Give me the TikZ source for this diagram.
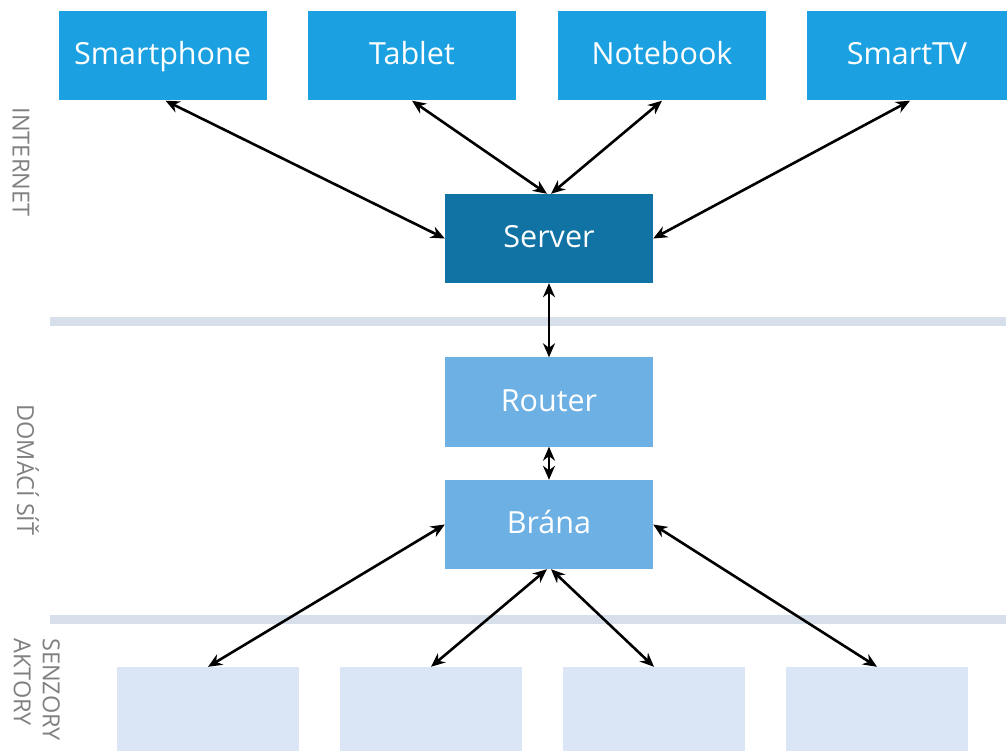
\documentclass[tikz,border=0pt]{standalone}
\usepackage{fontspec}
\setmainfont{Open Sans}
\usetikzlibrary{arrows.meta}
\definecolor{topblue}{RGB}{27,160,226}
\definecolor{srvblue}{RGB}{17,114,164}
\definecolor{midblue}{RGB}{108,176,228}
\definecolor{paleblue}{RGB}{218,230,245}
\definecolor{barcol}{RGB}{214,223,234}
\definecolor{lblgray}{RGB}{128,128,128}
\tikzset{
  box/.style={rectangle, inner sep=0pt, minimum width=208pt, minimum height=89pt, text=white, font=\fontsize{30.5}{34}\selectfont, text height=22pt, text depth=4pt},
  topbox/.style={box, fill=topblue},
  srvbox/.style={box, fill=srvblue},
  midbox/.style={box, fill=midblue},
  leafbox/.style={rectangle, inner sep=0pt, minimum width=182pt, minimum height=90pt, fill=paleblue},
  link/.style={line width=2.6pt, {Stealth[length=14pt,width=12pt]}-{Stealth[length=14pt,width=12pt]}},
  sidelbl/.style={text=lblgray, font=\fontsize{23.5}{29}\selectfont, rotate=-90, inner sep=0pt},
  bar/.style={fill=barcol, draw=none}
}
\begin{document}
\begin{tikzpicture}[x=1pt,y=-1pt]
\useasboundingbox (0,0) rectangle (1007,751);
% separator bars
\fill[barcol] (50,317) rectangle (1006,326);
\fill[barcol] (50,615) rectangle (1006,624);
% top row
\node[topbox] (phone) at (162.5,56) {Smartphone};
\node[topbox] (tablet) at (412,56) {Tablet};
\node[topbox] (note) at (662,56) {Notebook};
\node[topbox, minimum width=200pt] (tv) at (907,56) {SmartTV};
% middle
\node[srvbox] (server) at (549,238.5) {Server};
\node[midbox] (router) at (549,402) {Router};
\node[midbox] (brana) at (549,524.5) {Brána};
% bottom
\node[leafbox] (s1) at (208,712) {};
\node[leafbox] (s2) at (431,712) {};
\node[leafbox] (s3) at (654,712) {};
\node[leafbox] (s4) at (877,712) {};
% connectors
\draw[link] ([xshift=3pt]phone.south) -- (server.west);
\draw[link] (tablet.south) -- ([xshift=-2pt]server.north);
\draw[link] (note.south) -- ([xshift=2pt]server.north);
\draw[link] ([xshift=3pt]tv.south) -- (server.east);
\draw[link] (server.south) -- (router.north);
\draw[link] (router.south) -- (brana.north);
\draw[link] (brana.west) -- (s1.north);
\draw[link] ([xshift=-2pt]brana.south) -- (s2.north);
\draw[link] ([xshift=2pt]brana.south) -- (s3.north);
\draw[link] (brana.east) -- (s4.north);
% side labels
\node[sidelbl] (lint) at (21,162) {INTERNET};
\node[sidelbl] (ldom) at (28,470) {DOMÁCÍ SÍŤ};
\node[sidelbl, align=left, anchor=north west] (lsen) at (60,638) {SENZORY\\AKTORY};
\end{tikzpicture}
\end{document}
